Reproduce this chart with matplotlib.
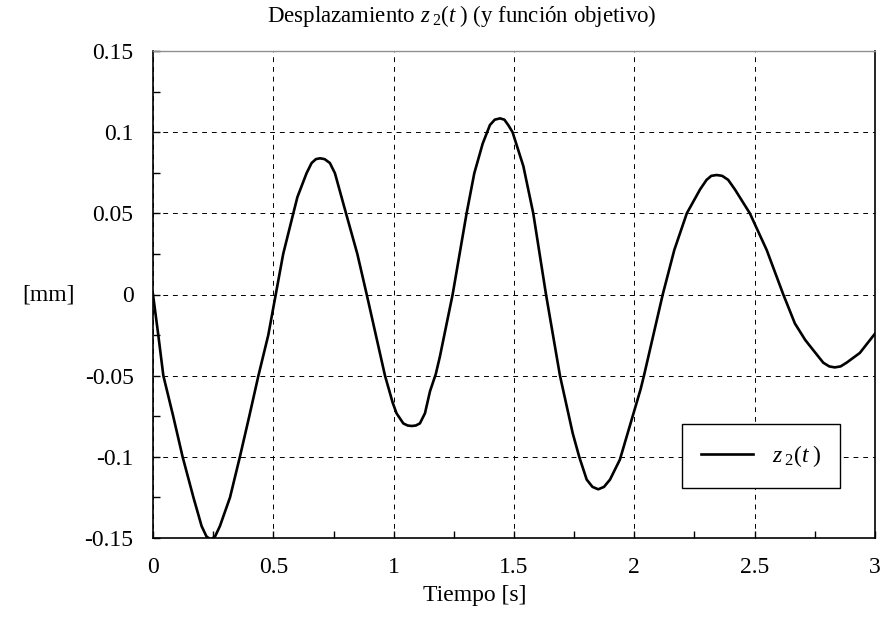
import matplotlib
matplotlib.use('Agg')
from matplotlib import pyplot as plt
from matplotlib.ticker import MultipleLocator, FuncFormatter

# data
t = [0, 0.022, 0.043, 0.084, 0.123, 0.168, 0.202, 0.222, 0.24, 0.258, 0.278, 0.32,
     0.361, 0.40, 0.438, 0.479, 0.51, 0.541, 0.583, 0.60, 0.638, 0.659, 0.677,
     0.694, 0.713, 0.735, 0.756, 0.802, 0.849, 0.888, 0.926, 0.964, 0.996, 1.012,
     1.04, 1.058, 1.075, 1.092, 1.109, 1.13, 1.151, 1.175, 1.192, 1.245, 1.303,
     1.335, 1.37, 1.40, 1.42, 1.442, 1.46, 1.476, 1.494, 1.539, 1.58, 1.633,
     1.691, 1.744, 1.771, 1.802, 1.826, 1.85, 1.874, 1.899, 1.94, 2.026, 2.04,
     2.118, 2.166, 2.218, 2.273, 2.30, 2.32, 2.342, 2.365, 2.39, 2.418, 2.48,
     2.55, 2.619, 2.667, 2.71, 2.743, 2.785, 2.81, 2.833, 2.857, 2.882, 2.937, 3.0]
z2 = [0, -0.025, -0.05, -0.075, -0.1, -0.125, -0.1427, -0.149, -0.151, -0.149,
      -0.1427, -0.125, -0.1, -0.075, -0.05, -0.025, 0, 0.025, 0.05, 0.060, 0.0747,
      0.081, 0.0834, 0.0839, 0.0834, 0.081, 0.0747, 0.05, 0.025, 0, -0.025, -0.05,
      -0.0667, -0.0732, -0.0794, -0.0807, -0.081, -0.0807, -0.0794, -0.0732,
      -0.0596, -0.049, -0.0383, 0, 0.05, 0.0747, 0.093, 0.1044, 0.1077, 0.1085,
      0.1077, 0.1044, 0.1, 0.079, 0.05, 0, -0.05, -0.0855, -0.1, -0.114, -0.1185,
      -0.12, -0.1185, -0.114, -0.1017, -0.0584, -0.05, 0, 0.0274, 0.05, 0.0647,
      0.0706, 0.0731, 0.0736, 0.0731, 0.0706, 0.0647, 0.05, 0.0274, 0, -0.0178,
      -0.028, -0.0342, -0.042, -0.0443, -0.0449, -0.0443, -0.042, -0.036, -0.0241]

xticks = [0, 0.5, 1, 1.5, 2, 2.5, 3]
yticks = [-0.15, -0.1, -0.05, 0, 0.05, 0.1, 0.15]

plt.rcParams.update({
    'font.family': 'Liberation Serif',
    'font.size': 17,
    'mathtext.fontset': 'custom',
    'mathtext.rm': 'Liberation Serif',
    'mathtext.it': 'Liberation Serif:italic',
})

fig = plt.figure(figsize=(8.82, 6.22), dpi=100)
ax = fig.add_axes([153 / 882, 1 - 538 / 622, 722 / 882, 487 / 622])

ax.plot(t, z2, color='black', linewidth=1.9, label=r'$z_{\;2}(t\;)$', zorder=3,
        solid_joinstyle='round')

ax.set_xlim(0, 3)
ax.set_ylim(-0.15, 0.15)
ax.set_xticks(xticks)
ax.set_yticks(yticks)
ax.xaxis.set_minor_locator(MultipleLocator(0.25))
ax.yaxis.set_minor_locator(MultipleLocator(0.025))
ax.xaxis.set_major_formatter(FuncFormatter(lambda v, p: ('%g' % v)))
ax.yaxis.set_major_formatter(FuncFormatter(lambda v, p: ('%g' % v)))
ax.tick_params(which='both', direction='in', top=False, right=False,
               length=5, width=1, color='black')
ax.tick_params(axis='y', pad=14)
ax.tick_params(axis='x', pad=14)

ax.grid(True, which='major', color='black', linestyle=(0, (5, 5)), linewidth=0.7)

for side in ['left', 'bottom', 'right']:
    ax.spines[side].set_color('black')
    ax.spines[side].set_linewidth(1.2)
ax.spines['top'].set_color('#909090')
ax.spines['top'].set_linewidth(1.0)

leg = ax.legend(loc='upper left', bbox_to_anchor=((682 - 153) / 722, (538 - 424) / 487),
                frameon=True, fancybox=False, edgecolor='black', framealpha=1,
                borderpad=0.8, handlelength=2.2, handletextpad=0.8, borderaxespad=0)
leg.get_frame().set_linewidth(1.0)

fig.text(462 / 882, 1 - 16 / 622, r'Desplazamiento $z_{\;2}(t\;)$ (y función objetivo)',
         ha='center', va='center', fontsize=16.5)
fig.text(475 / 882, 1 - 596 / 622, 'Tiempo [s]', ha='center', va='center')
fig.text(48 / 882, 1 - 295 / 622, '[mm]', ha='center', va='center')

fig.savefig('out.png', dpi=100)
